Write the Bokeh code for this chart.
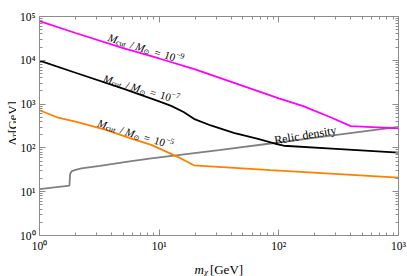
import math
from bokeh.plotting import figure
from bokeh.layouts import column, row
from bokeh.models import Label, FixedTicker, LogAxis, Range1d
from bokeh.core.properties import value
from bokeh.embed import file_html
from bokeh.resources import INLINE

# ---------------- data ----------------
m_magenta = [1, 2, 5, 10, 20, 50, 100, 160, 270, 400, 1000]
lam_magenta = [7.8e4, 4.2e4, 1.9e4, 1.1e4, 6.2e3, 2.6e3, 1.35e3, 9.0e2, 5.0e2, 3.15e2, 2.8e2]

m_black = [1, 2, 5, 10, 12.6, 16, 19.5, 27, 42, 67, 98, 110, 300, 1000]
lam_black = [9.8e3, 5.2e3, 2.25e3, 1.15e3, 9.1e2, 6.6e2, 4.6e2, 3.25e2, 2.2e2, 1.6e2, 1.2e2, 1.12e2, 95, 78]

m_orange = [1, 1.4, 2, 3.6, 5.85, 8.6, 15.2, 19.5, 85, 1000]
lam_orange = [725, 500, 400, 257, 162, 117, 57.5, 40, 31, 21]

m_relic = [1, 1.78, 1.8, 1.86, 2.0, 2.24, 3.2, 5.85, 8.6, 31.6, 85, 316, 1000]
lam_relic = [11.5, 13.8, 25, 29.5, 31.6, 34, 39, 50, 57.5, 89, 126, 200, 302]

x_ticks = [1, 10, 100, 1000]
x_tick_labels = ["10\u2070", "10\u00b9", "10\u00b2", "10\u00b3"]
y_ticks = [1, 10, 100, 1000, 10000, 100000]
y_tick_labels = ["10\u2070", "10\u00b9", "10\u00b2", "10\u00b3", "10\u2074", "10\u2075"]

FONT = "Liberation Serif"
FONT_VALUE = value(FONT)
FRAME = "#8c8c8c"

YSTRIP_W = 16
XSTRIP_H = 22
TOTAL_W, TOTAL_H = 407, 276

p = figure(width=TOTAL_W - YSTRIP_W, height=TOTAL_H - XSTRIP_H,
           x_axis_type="log", y_axis_type="log",
           x_range=Range1d(1, 1000), y_range=Range1d(1, 1e5),
           output_backend="svg", toolbar_location=None,
           min_border_left=22, min_border_right=9, min_border_top=16, min_border_bottom=16)
p.xgrid.visible = False
p.ygrid.visible = False
p.outline_line_color = FRAME
p.background_fill_color = "white"
p.border_fill_color = "white"


def minor_of(ticks):
    out = []
    for t in ticks[:-1]:
        out += [k * t for k in range(2, 10)]
    return out


def style_axis(ax, ticks, labels, show_labels):
    ax.ticker = FixedTicker(ticks=ticks, minor_ticks=minor_of(ticks))
    ax.major_label_overrides = {t: l for t, l in zip(ticks, labels)}
    ax.axis_line_color = FRAME
    ax.major_tick_line_color = FRAME
    ax.minor_tick_line_color = FRAME
    ax.major_tick_in = 6
    ax.major_tick_out = 0
    ax.minor_tick_in = 3
    ax.minor_tick_out = 0
    ax.major_label_text_font = FONT
    ax.major_label_text_font_size = "11.5px" if show_labels else "0px"
    ax.major_label_text_color = "black"
    ax.major_label_standoff = 4 if show_labels else 0


style_axis(p.xaxis[0], x_ticks, x_tick_labels, True)
style_axis(p.yaxis[0], y_ticks, y_tick_labels, True)
top = LogAxis()
right = LogAxis()
style_axis(top, x_ticks, x_tick_labels, False)
style_axis(right, y_ticks, y_tick_labels, False)
top.major_label_text_alpha = 0
right.major_label_text_alpha = 0
p.add_layout(top, "above")
p.add_layout(right, "right")

# ---------------- curves ----------------
p.line(m_relic, lam_relic, line_color="#808080", line_width=1.8)
p.line(m_orange, lam_orange, line_color="#ff8000", line_width=1.8)
p.line(m_black, lam_black, line_color="black", line_width=1.8)
p.line(m_magenta, lam_magenta, line_color="#ff00ff", line_width=1.8)


# ---------------- rich labels inside the frame ----------------
def rich_label(x, y, angle_deg, pieces):
    th = math.radians(angle_deg)
    c, s_ = math.cos(th), math.sin(th)
    for text, d, s, size, style in pieces:
        p.add_layout(Label(x=x, y=y, x_offset=d * c - s * s_, y_offset=d * s_ + s * c,
                           text=text, angle=th, text_font=FONT,
                           text_font_size=f"{size}px", text_font_style=style,
                           text_baseline="alphabetic", text_align="left",
                           text_color="black"))


def mass_pieces(exp):
    return [("M", 0, 0, 11, "italic"),
            ("cut", 9.2, -2.5, 8, "normal"),
            ("/", 23.5, 0, 11, "normal"),
            ("M", 29, 0, 11, "italic"),
            ("\u2299", 38, -3, 7, "normal"),
            ("=", 48.5, 0, 11, "normal"),
            ("10", 59, 0, 11, "normal"),
            ("\u2212" + exp, 70, 4.5, 8, "normal")]


rich_label(3.76, 3.4e4, -17.5, mass_pieces("9"))
rich_label(3.43, 3.95e3, -16.5, mass_pieces("7"))
rich_label(3.08, 383, -17.5, mass_pieces("5"))

rich_label(91.7, 149, 9.5, [("Relic density", 0, 0, 12, "normal")])


# ---------------- axis titles in narrow strips ----------------
def strip(w, h):
    f = figure(width=w, height=h, x_range=Range1d(0, w), y_range=Range1d(0, h),
               output_backend="svg", toolbar_location=None,
               x_axis_location=None, y_axis_location=None,
               min_border=0, outline_line_color=None)
    f.xgrid.visible = False
    f.ygrid.visible = False
    f.border_fill_color = "white"
    return f


def piece(f, x, y, text, size, style, angle=0.0):
    f.text(x=[x], y=[y], text=[text], angle=angle,
           text_font=FONT_VALUE, text_font_size=f"{size}px",
           text_font_style=style, text_baseline="alphabetic",
           text_align="left", text_color="black")


ph = TOTAL_H - XSTRIP_H
ystrip = strip(YSTRIP_W, ph)
# rotated title: baseline at x=12.5, starts at page y=150
y0 = ph - 150
piece(ystrip, 12.5, y0, "\u039b", 12.5, "normal", math.pi / 2)
piece(ystrip, 15, y0 + 9.0, "T", 8.5, "italic", math.pi / 2)
piece(ystrip, 12.5, y0 + 14.5, "[GeV]", 12.5, "normal", math.pi / 2)

xstrip = strip(TOTAL_W, XSTRIP_H)
piece(xstrip, 194, 7.5, "m", 13, "italic")
piece(xstrip, 203.4, 4.5, "\u03c7", 9, "italic")
piece(xstrip, 209.4, 7.5, "[GeV]", 13, "normal")

layout = column(row(ystrip, p, spacing=0), xstrip, spacing=0)

open("out.html", "w").write(file_html(layout, INLINE))
